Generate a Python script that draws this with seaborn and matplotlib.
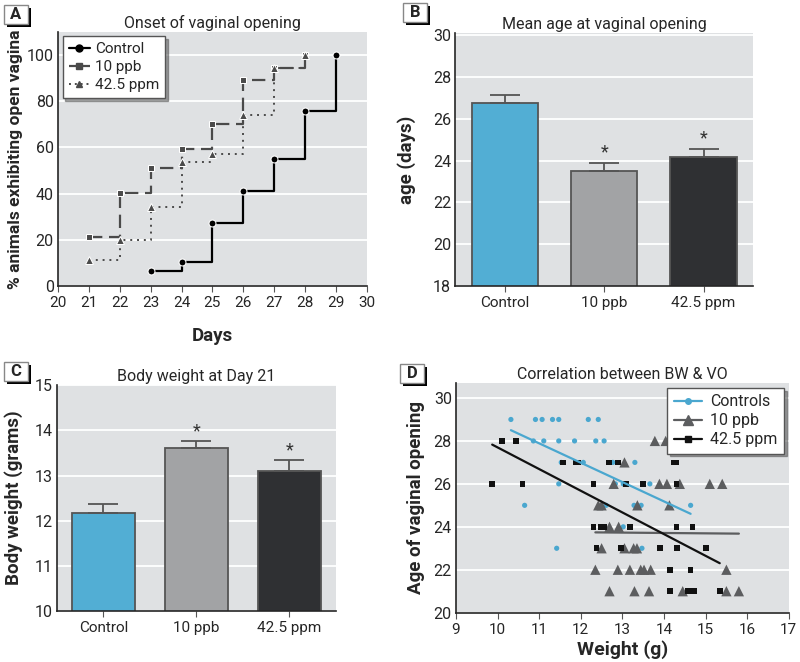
import numpy as np
import pandas as pd
import matplotlib.pyplot as plt
import seaborn as sns
from matplotlib.lines import Line2D
from matplotlib.patches import Rectangle

# Panel A: onset of vaginal opening (cumulative %)
days_ctrl = [23, 24, 25, 26, 27, 28, 29]
pct_ctrl = [6.6, 10.2, 27.4, 41.3, 55.0, 75.8, 100]
days_10ppb = [21, 22, 23, 24, 25, 26, 27, 28]
pct_10ppb = [21.4, 40.4, 51.1, 59.3, 70.1, 89.0, 94.5, 100]
days_425 = [21, 22, 23, 24, 25, 26, 27, 28]
pct_425 = [11.1, 19.8, 34.1, 53.8, 57.0, 73.9, 94.5, 100]

# Panels B and C: bar means with SEM
groups = ["Control", "10 ppb", "42.5 ppm"]
age_mean = [26.77, 23.52, 24.17]
age_sem = [0.38, 0.36, 0.38]
bw_mean = [12.18, 13.60, 13.10]
bw_sem = [0.20, 0.16, 0.24]

# Panel D: weight vs age at vaginal opening
ctrl_w = [10.32, 10.91, 11.07, 11.32, 11.47, 12.18, 12.42,
          10.86, 11.11, 11.47, 11.85, 12.36, 12.56,
          11.53, 12.06, 12.77, 13.30,
          11.47, 12.83, 13.02, 13.66,
          10.65, 12.61, 13.28, 13.45, 14.64,
          13.02,
          11.42, 13.47]
ctrl_age = [29, 29, 29, 29, 29, 29, 29,
            28, 28, 28, 28, 28, 28,
            27, 27, 27, 27,
            26, 26, 26, 26,
            25, 25, 25, 25, 25,
            24,
            23, 23]
ppb_w = [13.78, 14.04,
         13.05,
         12.79, 13.89, 14.07, 14.38, 15.10, 15.40,
         12.42, 12.50, 13.36, 14.13,
         12.69, 12.91,
         12.50, 13.05, 13.27, 13.35,
         12.35, 12.89, 13.18, 13.44, 13.52, 13.68, 15.50,
         12.69, 13.29, 13.64, 14.45, 15.50, 15.80]
ppb_age = [28, 28,
           27,
           26, 26, 26, 26, 26, 26,
           25, 25, 25, 25,
           24, 24,
           23, 23, 23, 23,
           22, 22, 22, 22, 22, 22, 22,
           21, 21, 21, 21, 21, 21]
ppm_w = [10.11, 10.44,
         11.57, 11.89, 11.94, 12.68, 12.89, 14.23, 14.30,
         9.87, 10.60, 12.30, 13.09, 13.50, 14.30,
         12.30, 12.49, 12.56, 13.18, 14.30, 14.69,
         12.38, 12.97, 13.90, 14.31, 15.01,
         14.14, 14.64,
         14.15, 14.56, 14.64, 14.73, 15.34]
ppm_age = [28, 28,
           27, 27, 27, 27, 27, 27, 27,
           26, 26, 26, 26, 26, 26,
           24, 24, 24, 24, 24, 24,
           23, 23, 23, 23, 23,
           22, 22,
           21, 21, 21, 21, 21]

bg = "#dfe1e3"
blue = "#52aed4"
lgray = "#a2a3a5"
dgray = "#2f3033"

sns.set_style("ticks")
plt.rcParams["font.family"] = ["Roboto", "DejaVu Sans"]
plt.rcParams["axes.linewidth"] = 1.2

fig = plt.figure(figsize=(8, 6.62), dpi=100)
axA = fig.add_axes([0.0725, 0.568, 0.386, 0.384])
axB = fig.add_axes([0.569, 0.568, 0.3725, 0.382])
axC = fig.add_axes([0.071, 0.077, 0.349, 0.341])
axD = fig.add_axes([0.57, 0.0745, 0.416, 0.347])


def style_axes(ax, yticks):
    ax.set_facecolor(bg)
    ax.set_yticks(yticks)
    ax.grid(axis="y", color="white", linewidth=1.3)
    ax.set_axisbelow(True)
    for s in ["top", "right"]:
        ax.spines[s].set_visible(False)
    ax.tick_params(axis="y", length=0, labelsize=11.5, pad=3)
    ax.tick_params(axis="x", length=4, labelsize=11, color="#555555")


# ---- Panel A
style_axes(axA, range(0, 101, 20))
sns.lineplot(x=days_ctrl, y=pct_ctrl, drawstyle="steps-post", marker="o",
             markersize=5, color="black", linewidth=1.6, ax=axA)
sns.lineplot(x=days_10ppb, y=pct_10ppb, drawstyle="steps-post", marker="s",
             markersize=5, color="#4a4a4a", linewidth=1.6, ax=axA)
sns.lineplot(x=days_425, y=pct_425, drawstyle="steps-post", marker="^",
             markersize=6, color="#4a4a4a", linewidth=1.4, ax=axA)
axA.lines[0].set_linestyle("-")
axA.lines[1].set_dashes([6, 3])
axA.lines[2].set_dashes([1, 2.5])
axA.set_xlim(20, 30)
axA.set_ylim(0, 110)
axA.set_xticks(range(20, 31))
axA.set_title("Onset of vaginal opening", fontsize=11.5, pad=3)
axA.set_xlabel("Days", fontsize=13.5, fontweight="bold", labelpad=12)
axA.set_ylabel("% animals exhibiting open vagina", fontsize=12.5, fontweight="bold", labelpad=3)
legA = [Line2D([0], [0], color="black", marker="o", markersize=5, lw=1.6),
        Line2D([0], [0], color="#4a4a4a", marker="s", markersize=5, lw=1.6, dashes=[4, 2]),
        Line2D([0], [0], color="#4a4a4a", marker="^", markersize=5, lw=1.4, dashes=[1, 2])]
axA.legend(legA, ["Control", "10 ppb", "42.5 ppm"], loc="upper left", fontsize=11,
           frameon=True, fancybox=False, shadow=True, edgecolor="#555555",
           handlelength=1.4, handletextpad=0.3, borderaxespad=0.3, labelspacing=0.25)


# ---- bar panels
def bar_panel(ax, means, sems, ylim, yticks, title, ylabel):
    style_axes(ax, yticks)
    df = pd.DataFrame({"group": groups, "value": means})
    sns.barplot(data=df, x="group", y="value", hue="group", saturation=1,
                palette=[blue, lgray, dgray], width=0.67, edgecolor="#555555",
                linewidth=1.3, legend=False, ax=ax)
    ax.errorbar(range(3), means, yerr=[[0, 0, 0], sems], fmt="none",
                ecolor="#555555", elinewidth=1.3, capsize=11, capthick=1.3)
    for i in [1, 2]:
        ax.text(i, means[i] + sems[i] + (ylim[1] - ylim[0]) * 0.006, "*",
                ha="center", va="bottom", fontsize=13, color="#333333")
    ax.set_ylim(*ylim)
    ax.set_xlim(-0.5, 2.5)
    ax.set_xlabel("")
    ax.set_title(title, fontsize=11.5, pad=3)
    ax.set_ylabel(ylabel, fontsize=13.5, fontweight="bold")


bar_panel(axB, age_mean, age_sem, (18, 30.1), range(18, 31, 2),
          "Mean age at vaginal opening", "age (days)")
axB.yaxis.labelpad = 12
bar_panel(axC, bw_mean, bw_sem, (10, 15), range(10, 16),
          "Body weight at Day 21", "Body weight (grams)")
axC.yaxis.labelpad = 8

# ---- Panel D
style_axes(axD, range(20, 31, 2))
sns.scatterplot(x=ctrl_w, y=ctrl_age, color="#4aa7cf", marker="o", s=14,
                edgecolor="none", ax=axD, zorder=3)
sns.scatterplot(x=ppb_w, y=ppb_age, color="#5c5d5f", marker="^", s=55,
                edgecolor="none", ax=axD, zorder=3)
sns.scatterplot(x=ppm_w, y=ppm_age, color="#111111", marker="s", s=16,
                edgecolor="none", ax=axD, zorder=3)
sns.regplot(x=ctrl_w, y=ctrl_age, scatter=False, ci=None, truncate=True,
            line_kws={"color": "#4aa7cf", "lw": 1.6, "zorder": 4}, ax=axD)
sns.regplot(x=ppb_w, y=ppb_age, scatter=False, ci=None, truncate=True,
            line_kws={"color": "#5c5d5f", "lw": 1.6, "zorder": 4}, ax=axD)
sns.regplot(x=ppm_w, y=ppm_age, scatter=False, ci=None, truncate=True,
            line_kws={"color": "#111111", "lw": 1.6, "zorder": 4}, ax=axD)
axD.set_xlim(9, 17)
axD.set_ylim(20, 30.7)
axD.set_xticks(range(9, 18))
axD.set_title("Correlation between BW & VO", fontsize=11.5, pad=3)
axD.set_xlabel("Weight (g)", fontsize=14, fontweight="bold", labelpad=2)
axD.set_ylabel("Age of vaginal opening", fontsize=13.5, fontweight="bold", labelpad=6)
legD = [Line2D([0], [0], color="#4aa7cf", marker="o", markersize=4, lw=1.6),
        Line2D([0], [0], color="#5c5d5f", marker="^", markersize=7, lw=1.6),
        Line2D([0], [0], color="#111111", marker="s", markersize=4, lw=1.6)]
axD.legend(legD, ["Controls", "10 ppb", "42.5 ppm"], loc="upper right", fontsize=11.5,
           frameon=True, fancybox=False, shadow=True, edgecolor="#555555",
           handlelength=1.8, handletextpad=0.5, borderaxespad=0.3, labelspacing=0.25)


# ---- panel letters
def panel_letter(x0, y0, letter):
    w, h = 24 / 800, 19 / 662
    fig.patches.append(Rectangle((x0 + 3 / 800, y0 - 3 / 662), w, h,
                                 transform=fig.transFigure, facecolor="black",
                                 edgecolor="none", zorder=5))
    fig.patches.append(Rectangle((x0, y0), w, h, transform=fig.transFigure,
                                 facecolor="white", edgecolor="#888888", lw=1,
                                 zorder=6))
    fig.text(x0 + w / 2, y0 + h / 2, letter, ha="center", va="center",
             fontsize=12, fontweight="bold", zorder=7)


panel_letter(4 / 800, 1 - 24 / 662, "A")
panel_letter(403 / 800, 1 - 22 / 662, "B")
panel_letter(4 / 800, 1 - 381 / 662, "C")
panel_letter(400 / 800, 1 - 383 / 662, "D")

fig.savefig("out.png", dpi=100)
